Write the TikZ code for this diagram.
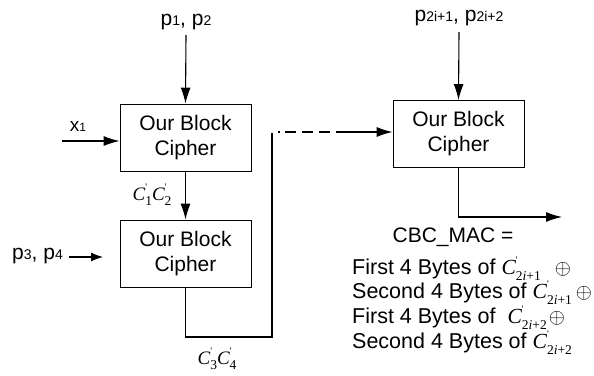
\documentclass[tikz,border=0pt]{standalone}
\usepackage{fontspec}
\setmainfont{Liberation Sans}
\newfontfamily\tnr{Liberation Serif}
\usetikzlibrary{arrows.meta}
\tikzset{
  cipher/.style={draw, line width=0.9pt, minimum width=131pt, minimum height=67pt, align=center, inner sep=0pt, font=\fontsize{21}{25}\selectfont},
  conn/.style={line width=1.1pt},
  arr/.style={conn, -{Latex[length=16pt,width=10pt]}},
  lbl/.style={inner sep=0pt, font=\fontsize{21}{24}\selectfont},
  mlbl/.style={inner sep=0pt, font=\fontsize{19}{22}\selectfont},
  mac/.style={inner sep=0pt, anchor=base west, font=\fontsize{21.5}{24}\selectfont}
}
\newcommand{\sbs}[1]{{\fontsize{14}{14}\selectfont #1}}
\newcommand{\Cpr}[1]{{\tnr\itshape C}\rlap{\raisebox{0.5em}{\fontsize{10}{10}\selectfont\tnr\textquotesingle}}\raisebox{-0.3em}{\fontsize{13.5}{13.5}\selectfont\tnr #1}}
\begin{document}
\begin{tikzpicture}[x=1pt,y=-1pt]
\useasboundingbox (0,0) rectangle (594,375);
% boxes
\node[cipher] (b1) at (185.5,137.5) {Our Block\\Cipher};
\node[cipher] (b2) at (185.5,253.5) {Our Block\\Cipher};
\node[cipher] (b3) at (458.5,134) {Our Block\\Cipher};
% labels
\node[lbl] (p12) at (186,22) {p\sbs{1}, p\sbs{2}};
\node[lbl, font=\fontsize{19}{22}\selectfont] (x1) at (78,126) {x{\fontsize{12}{12}\selectfont 1}};
\node[lbl, anchor=east] (p34) at (63,256) {p\sbs{3}, p\sbs{4}};
\node[lbl] (pi) at (459,18) {p\sbs{2i+1}, p\sbs{2i+2}};
\node[mlbl] (c12) at (152,195) {\Cpr{1}\Cpr{2}};
\node[mlbl] (c34) at (217,359) {\Cpr{3}\Cpr{4}};
% coordinates
\coordinate (x1s) at (62,141);
\coordinate (p34s) at (69,257);
\coordinate (p34e) at (103,257);
\coordinate (fb1) at (185.5,337);
\coordinate (fb2) at (272,337);
\coordinate (fb3) at (272,133);
\coordinate (d0) at (278,132);
\coordinate (d1) at (336,132);
\coordinate (o1) at (458.5,217);
\coordinate (o2) at (562,217);
% connectors
\draw[arr] (p12.south |- 0,35) -- (b1.north);
\draw[arr] (x1s) -- (b1.west |- x1s);
\draw[arr] (b1.south) -- (b2.north);
\draw[conn, -{Latex[length=12pt,width=9pt]}] (p34s) -- (p34e);
\draw[conn] (b2.south) -- (fb1) -- (fb2) -- (fb3);
\draw[conn, dash pattern=on 2pt off 5pt on 11pt off 6pt on 11pt off 6pt on 11pt off 6pt] (d0) -- (d1);
\draw[arr] (d1) -- (b3.west |- d1);
\draw[arr] (pi.south |- 0,32) -- (b3.north);
\draw[arr] (b3.south) -- (o1) -- (o2);
% CBC MAC text
\node[inner sep=0pt, anchor=base, font=\fontsize{21}{24}\selectfont] (cbc) at (453,242) {CBC\_MAC =};
\node[mac] (l1) at (352,274) {First 4 Bytes of \Cpr{2\textit{i}+1}\hspace{14pt}$\oplus$};
\node[mac] (l2) at (352,298.5) {Second 4 Bytes of \Cpr{2\textit{i}+1}\hspace{4pt}$\oplus$};
\node[mac] (l3) at (352,323) {First 4 Bytes of\hspace{12pt}\Cpr{2\textit{i}+2}\hspace{2pt}$\oplus$};
\node[mac] (l4) at (352,348) {Second 4 Bytes of \Cpr{2\textit{i}+2}};
\end{tikzpicture}
\end{document}
